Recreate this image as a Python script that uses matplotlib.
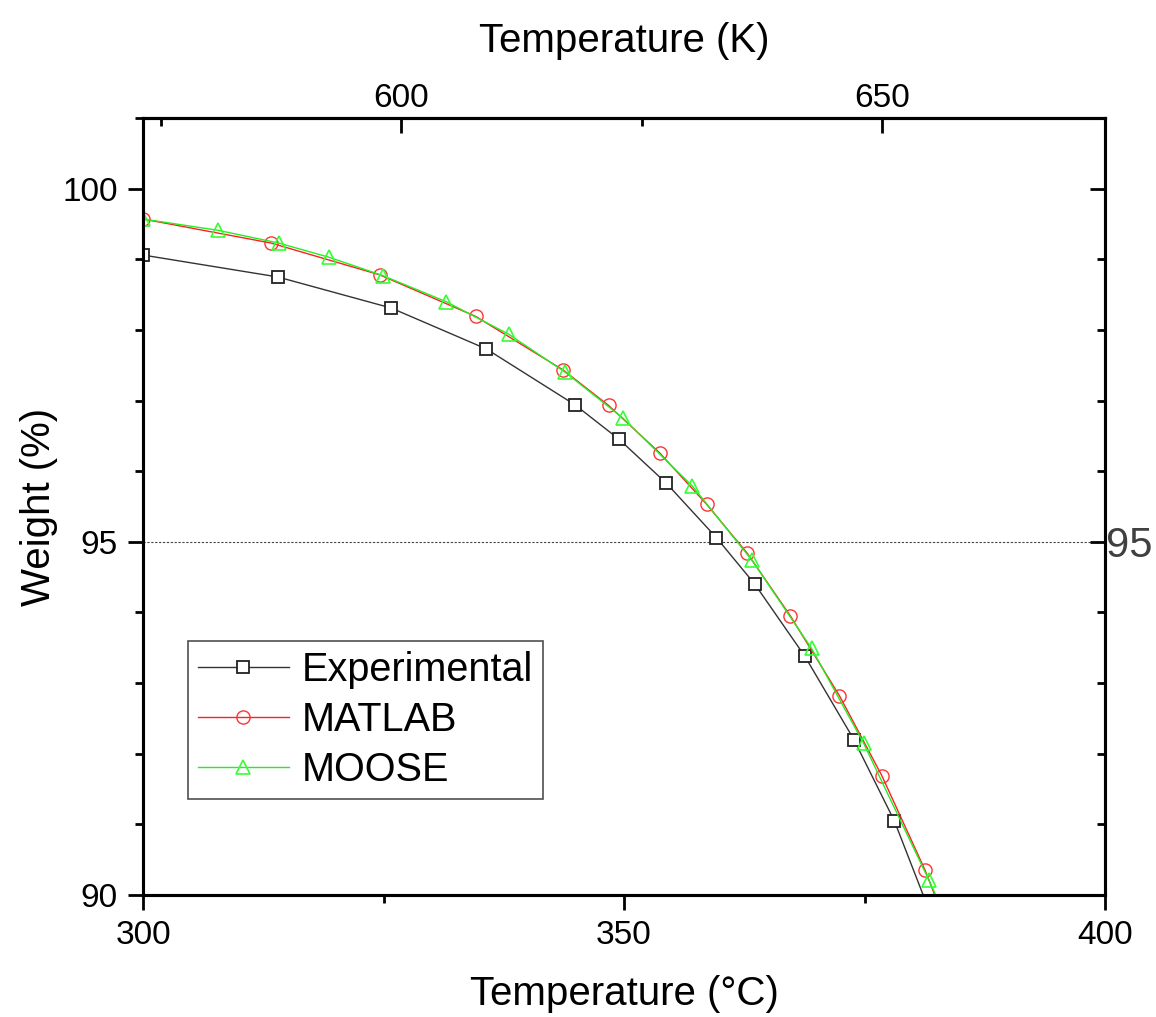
import matplotlib
matplotlib.use("Agg")
import matplotlib.pyplot as plt
from matplotlib.ticker import MultipleLocator, FixedLocator

plt.rcParams['font.family'] = ['Liberation Sans', 'DejaVu Sans']

# Experimental (markers) and line end at the axis bottom
exp_T = [300.0, 314.0, 325.8, 335.7, 344.9, 349.5, 354.4, 359.6, 363.6, 368.8, 373.9, 378.1, 381.1]
exp_W = [99.06, 98.75, 98.31, 97.73, 96.94, 96.45, 95.83, 95.06, 94.40, 93.38, 92.20, 91.05, 90.0]

mat_T = [300.0, 313.3, 324.6, 334.6, 343.7, 348.4, 353.7, 358.6, 362.8, 367.3, 372.4, 376.8, 381.3, 382.3]
mat_W = [99.57, 99.23, 98.78, 98.19, 97.43, 96.93, 96.26, 95.53, 94.84, 93.95, 92.82, 91.69, 90.35, 90.0]

moo_T = [300.0, 307.8, 314.1, 319.3, 324.9, 331.5, 338.0, 343.9, 349.9, 357.1, 363.3, 369.5, 374.9, 381.7, 382.4]
moo_W = [99.57, 99.41, 99.23, 99.03, 98.77, 98.40, 97.94, 97.40, 96.75, 95.79, 94.74, 93.49, 92.15, 90.21, 90.0]

labels = ["Experimental", "MATLAB", "MOOSE"]
ref_W = 95

fig = plt.figure(figsize=(11.56, 10.17), dpi=100)
ax = fig.add_axes([143/1156, 1-895/1017, (1105-143)/1156, (895-118)/1017])

ax.plot(exp_T, exp_W, color='#333333', lw=1.0, marker='s', ms=8, mfc='white',
        mec='#222222', mew=1.3, markevery=list(range(len(exp_T)-1)), label=labels[0], zorder=3)
ax.plot(mat_T, mat_W, color='#ff2020', lw=1.0, marker='o', ms=9.5, mfc='none',
        mec='#ff3333', mew=1.0, markevery=list(range(len(mat_T)-1)), label=labels[1], zorder=3)
ax.plot(moo_T, moo_W, color='#22ee22', lw=1.0, marker='^', ms=10.5, mfc='none',
        mec='#33ff33', mew=1.2, markevery=list(range(len(moo_T)-1)), label=labels[2], zorder=4)

ax.axhline(ref_W, color='#444444', lw=0.8, ls=(0, (2, 1.5)), zorder=1)

ax.set_xlim(300, 400)
ax.set_ylim(90, 101)
ax.xaxis.set_major_locator(FixedLocator([300, 350, 400]))
ax.xaxis.set_minor_locator(FixedLocator([325, 375]))
ax.yaxis.set_major_locator(FixedLocator([90, 95, 100]))
ax.yaxis.set_minor_locator(MultipleLocator(1))

for s in ax.spines.values():
    s.set_linewidth(2.2)

ax.tick_params(which='major', direction='out', length=11, width=2, labelsize=24, pad=7)
ax.tick_params(which='minor', direction='out', length=6, width=2)
ax.tick_params(right=False, top=False)

ax.set_xlabel("Temperature (°C)", fontsize=29, labelpad=17)
ax.set_ylabel("Weight (%)", fontsize=29, labelpad=3)

# Right axis
axr = ax.twinx()
axr.set_ylim(90, 101)
axr.yaxis.set_major_locator(FixedLocator([90, 95, 100]))
axr.yaxis.set_minor_locator(MultipleLocator(1))
axr.set_yticklabels(['', '95', ''])
axr.tick_params(which='major', direction='in', length=11, width=2, labelsize=30, pad=1, labelcolor='#404040')
axr.tick_params(which='minor', direction='in', length=6, width=2)
for s in axr.spines.values():
    s.set_linewidth(2.2)

# Top axis in Kelvin
sec = ax.secondary_xaxis('top', functions=(lambda c: c + 273.15, lambda k: k - 273.15))
sec.xaxis.set_major_locator(FixedLocator([600, 650]))
sec.xaxis.set_minor_locator(FixedLocator([575, 625, 675]))
sec.tick_params(which='major', direction='in', length=11, width=2, labelsize=24, pad=3)
sec.tick_params(which='minor', direction='in', length=6, width=2)
sec.set_xlabel("Temperature (K)", fontsize=29, labelpad=22)
sec.spines['top'].set_linewidth(2.2)

leg = ax.legend(loc='lower left', bbox_to_anchor=(0.0468, 0.1236), borderaxespad=0,
                fontsize=28.5, frameon=True, fancybox=False, edgecolor='#222222',
                handlelength=2.3, handletextpad=0.33, labelspacing=0.3, borderpad=0.25)
leg.get_frame().set_linewidth(1.2)

fig.savefig("out.png", dpi=100)
